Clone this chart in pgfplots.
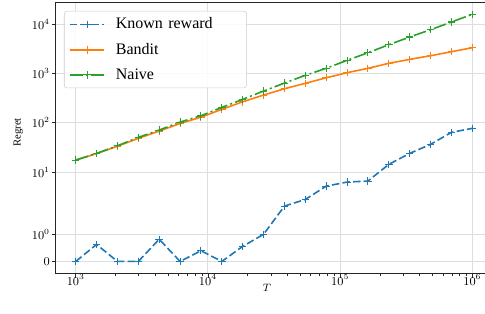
\documentclass[border=0pt]{standalone}
\usepackage{fontspec}
\setmainfont{Liberation Serif}
\usepackage{pgfplots}
\pgfplotsset{compat=1.18}
\definecolor{cA}{HTML}{1F77B4}
\definecolor{cB}{HTML}{FF7F0E}
\definecolor{cC}{HTML}{2CA02C}
\begin{document}
\begin{tikzpicture}
\begin{axis}[
  name=ax,
  scale only axis,
  width=327.15pt, height=203.8pt,
  xmode=log,
  xmin=707.9, xmax=1412538,
  ymin=-0.25, ymax=5.26,
  y filter/.expression={min(y,2)*0.555556 + ln(max(y,2)/2)/2.302585},
  ytick={0,0.555556,1.810256,2.810256,3.810256,4.810256},
  yticklabels={$0$,$10^{0}$,$10^{1}$,$10^{2}$,$10^{3}$,$10^{4}$},
  xtick={1000,10000,100000,1000000},
  xticklabels={$10^{3}$,$10^{4}$,$10^{5}$,$10^{6}$},
  tick align=outside,
  tick pos=left,
  major tick length=2.8pt,
  minor tick length=1.6pt,
  every tick/.style={black!85, line width=0.6pt},
  every minor tick/.style={black!85, line width=0.45pt},
  axis line style={black!85, line width=0.6pt},
  grid=major,
  major grid style={black!13, line width=0.7pt},
  tick label style={font=\fontsize{9}{10}\selectfont},
  xticklabel style={inner sep=0pt, yshift=2.2pt},
  yticklabel style={inner sep=0pt, xshift=-1.6pt},
  xlabel={$T$},
  ylabel={Regret},
  label style={font=\fontsize{8}{9.6}\selectfont},
  xlabel style={at={(axis description cs:0.484,-0.0508)}, anchor=center},
  ylabel style={at={(axis description cs:-0.0862,0.52)}, anchor=center, rotate=0},
  legend style={
    at={(axis description cs:0.0186,0.967)}, anchor=north west,
    draw=black!20, rounded corners=2pt, fill=white, fill opacity=0.85, text opacity=1,
    font=\fontsize{12}{14}\selectfont,
    inner xsep=3.5pt, inner ysep=3pt,
    row sep=5.2pt,
    /tikz/every odd column/.append style={column sep=6pt},
    /tikz/every even column/.append style={text width=92.5pt, align=left},
  },
  legend cell align=left,
  legend image code/.code={\draw[mark repeat=2,mark phase=2,#1] plot coordinates {(0pt,0pt) (13pt,0pt) (26pt,0pt)};},
  every axis plot/.append style={line width=1.2pt, mark=+, mark size=2.8pt, mark options={solid, line width=0.8pt}},
]
\addplot[cA, dash pattern=on 5.6pt off 2.4pt] table {
x y
1000 0
1438 0.62
2069 0
2976 0
4281 0.81
6158 0
8859 0.39
12743 0
18330 0.55
26367 0.99
37927 2.05
54556 2.8
78476 5.2
112884 6.3
162378 6.6
233572 14.4
335982 24.0
483293 36.6
695193 64.1
1000000 77.3
};
\addlegendentry{Known reward}
\addplot[cB] table {
x y
1000 17.5
1438 23.8
2069 33.5
2976 48.5
4281 68
6158 97
8859 130
12743 188
18330 267
26367 366
37927 491
54556 632
78476 820
112884 1038
162378 1274
233572 1607
335982 1937
483293 2292
695193 2767
1000000 3334
};
\addlegendentry{Bandit}
\addplot[cC, dash pattern=on 9.6pt off 2.4pt on 1.5pt off 2.4pt] table {
x y
1000 17.6
1438 24.0
2069 34.3
2976 50.7
4281 71.3
6158 103.7
8859 139
12743 206
18330 299
26367 441
37927 641
54556 918
78476 1274
112884 1849
162378 2637
233572 3836
335982 5495
483293 7727
695193 11070
1000000 15850
};
\addlegendentry{Naive}
\end{axis}
\pgfresetboundingbox
\path[use as bounding box] ([shift={(-41.9pt,-29.5pt)}]ax.south west) rectangle ([shift={(321.8pt,1.5pt)}]ax.north west);
\end{tikzpicture}
\end{document}
